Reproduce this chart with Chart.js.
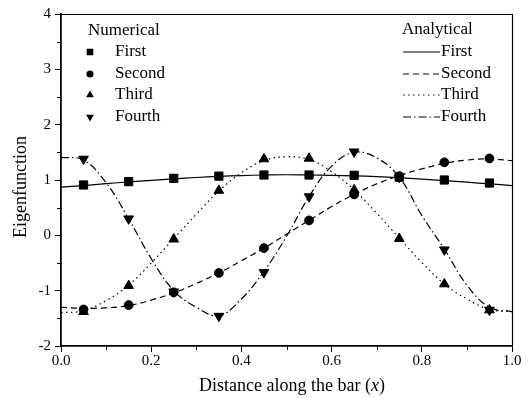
<!DOCTYPE html>
<html>
<head>
<meta charset="utf-8">
<script src="https://cdn.jsdelivr.net/npm/chart.js@4.4.1/dist/chart.umd.min.js"></script>
<style>
html,body{margin:0;padding:0;background:#fff;}
#wrap{width:530px;height:398px;}
</style>
</head>
<body>
<div id="wrap"><canvas id="c" width="530" height="398"></canvas></div>
<script>
// ---- data ----
const xNum = [0.05, 0.15, 0.25, 0.35, 0.45, 0.55, 0.65, 0.75, 0.85, 0.95];
const numFirst  = [0.91, 0.97, 1.03, 1.07, 1.09, 1.09, 1.085, 1.05, 1.00, 0.945];
const numSecond = [-1.34, -1.26, -1.03, -0.68, -0.23, 0.27, 0.74, 1.07, 1.32, 1.39];
const numThird  = [-1.38, -0.91, -0.07, 0.81, 1.38, 1.39, 0.82, -0.06, -0.88, -1.35];
const numFourth = [1.38, 0.30, -1.02, -1.46, -0.67, 0.70, 1.51, 1.05, -0.26, -1.35];

const xAna = [0, 0.05, 0.1, 0.15, 0.2, 0.25, 0.3, 0.35, 0.4, 0.45, 0.5, 0.55, 0.6, 0.65, 0.7, 0.75, 0.8, 0.85, 0.9, 0.95, 1.0];
const anaFirst  = [0.87, 0.90, 0.935, 0.965, 0.995, 1.02, 1.045, 1.065, 1.08, 1.09, 1.095, 1.09, 1.085, 1.075, 1.06, 1.04, 1.015, 0.99, 0.96, 0.93, 0.90];
const anaSecond = [-1.30, -1.32, -1.31, -1.27, -1.17, -1.04, -0.87, -0.68, -0.46, -0.23, 0.02, 0.27, 0.52, 0.74, 0.93, 1.08, 1.20, 1.30, 1.36, 1.38, 1.35];
const anaThird  = [-1.40, -1.36, -1.18, -0.90, -0.50, -0.06, 0.38, 0.80, 1.13, 1.35, 1.42, 1.37, 1.15, 0.82, 0.40, -0.05, -0.49, -0.88, -1.15, -1.34, -1.38];
const anaFourth = [1.41, 1.36, 0.95, 0.30, -0.42, -1.00, -1.30, -1.45, -1.15, -0.65, -0.02, 0.70, 1.25, 1.50, 1.40, 1.05, 0.36, -0.25, -0.90, -1.30, -1.38];

const xTicks = [0.0, 0.2, 0.4, 0.6, 0.8, 1.0];
const yTicks = [-2, -1, 0, 1, 2, 3, 4];
const seriesNames = ['First', 'Second', 'Third', 'Fourth'];
const numTitle = 'Numerical';
const anaTitle = 'Analytical';
const xTitleParts = ['Distance along the bar (', 'x', ')'];
const yTitle = 'Eigenfunction';

// ---- build ----
const pts = (xs, ys) => xs.map((x, i) => ({x: x, y: ys[i]}));
const SERIF = '"Liberation Serif", "DejaVu Serif", serif';
const dashes = [[], [6, 4], [1.5, 3.5], [8, 3, 1.5, 3]];
const styles = [
  {pointStyle: 'rect', radius: 5.8, rotation: 0},
  {pointStyle: 'circle', radius: 4.4, rotation: 0},
  {pointStyle: 'triangle', radius: 5.6, rotation: 0},
  {pointStyle: 'triangle', radius: 5.6, rotation: 180}
];
const anaData = [anaFirst, anaSecond, anaThird, anaFourth];
const numData = [numFirst, numSecond, numThird, numFourth];

const datasets = [];
anaData.forEach((d, i) => {
  datasets.push({
    label: 'Analytical ' + seriesNames[i],
    data: pts(xAna, d),
    borderColor: '#000', borderWidth: 1.2, borderDash: dashes[i],
    pointRadius: 0, showLine: true, fill: false, tension: 0.4
  });
});
numData.forEach((d, i) => {
  datasets.push({
    label: 'Numerical ' + seriesNames[i],
    data: pts(xNum, d),
    showLine: false,
    pointStyle: styles[i].pointStyle, pointRotation: styles[i].rotation,
    pointRadius: styles[i].radius, pointHoverRadius: styles[i].radius,
    backgroundColor: '#000', borderColor: '#000', borderWidth: 1
  });
});

function drawMarker(ctx, st, x, y) {
  ctx.beginPath();
  const r = st.radius;
  if (st.pointStyle === 'rect') {
    const s = r * Math.SQRT1_2;
    ctx.rect(x - s, y - s, 2 * s, 2 * s);
  } else if (st.pointStyle === 'circle') {
    ctx.arc(x, y, r, 0, Math.PI * 2);
  } else {
    const h = r * 1.5, w = r * Math.sqrt(3);
    const dir = st.rotation === 180 ? -1 : 1;
    ctx.moveTo(x, y - dir * h * 2 / 3);
    ctx.lineTo(x - w / 2, y + dir * h / 3);
    ctx.lineTo(x + w / 2, y + dir * h / 3);
    ctx.closePath();
  }
  ctx.fill();
}

const decor = {
  id: 'decor',
  afterDraw(chart) {
    const ctx = chart.ctx, a = chart.chartArea;
    const xs = chart.scales.x, ys = chart.scales.y;
    ctx.save();
    ctx.strokeStyle = '#000'; ctx.fillStyle = '#000';
    // frame top/right
    ctx.lineWidth = 1.2;
    ctx.beginPath();
    ctx.moveTo(a.left, a.top + 0.5); ctx.lineTo(a.right + 0.5, a.top + 0.5); ctx.lineTo(a.right + 0.5, a.bottom);
    ctx.stroke();
    // minor ticks
    ctx.lineWidth = 1;
    ctx.beginPath();
    for (let k = 1; k < 10; k += 2) {
      const px = Math.round(xs.getPixelForValue(k / 10)) + 0.5;
      ctx.moveTo(px, a.bottom); ctx.lineTo(px, a.bottom + 4);
    }
    for (let k = -2; k < 4; k++) {
      const py = Math.round(ys.getPixelForValue(k + 0.5)) + 0.5;
      ctx.moveTo(a.left, py); ctx.lineTo(a.left - 4, py);
    }
    ctx.stroke();
    // legends
    ctx.font = '17px ' + SERIF;
    ctx.textBaseline = 'middle';
    ctx.textAlign = 'left';
    ctx.fillText(numTitle, 88, 31);
    ctx.fillText(anaTitle, 402, 30);
    const rowY = [52, 74, 95, 117];
    seriesNames.forEach((n, i) => {
      drawMarker(ctx, {pointStyle: styles[i].pointStyle, radius: styles[i].radius * 0.8, rotation: styles[i].rotation}, 90, rowY[i]);
      ctx.fillText(n, 115, rowY[i]);
      ctx.save();
      ctx.lineWidth = 1.2;
      ctx.setLineDash(dashes[i]);
      ctx.beginPath();
      ctx.moveTo(403, rowY[i]); ctx.lineTo(440, rowY[i]);
      ctx.stroke();
      ctx.restore();
      ctx.fillText(n, 441, rowY[i]);
    });
    // x title
    ctx.textBaseline = 'alphabetic';
    const fN = '18px ' + SERIF, fI = 'italic 18px ' + SERIF;
    const w0 = (ctx.font = fN, ctx.measureText(xTitleParts[0]).width);
    const w1 = (ctx.font = fI, ctx.measureText(xTitleParts[1]).width);
    const w2 = (ctx.font = fN, ctx.measureText(xTitleParts[2]).width);
    let sx = 292 - (w0 + w1 + w2) / 2;
    ctx.font = fN; ctx.fillText(xTitleParts[0], sx, 391);
    ctx.font = fI; ctx.fillText(xTitleParts[1], sx + w0, 391);
    ctx.font = fN; ctx.fillText(xTitleParts[2], sx + w0 + w1, 391);
    // y title
    ctx.save();
    ctx.translate(21, 187);
    ctx.rotate(-Math.PI / 2);
    ctx.font = '18px ' + SERIF;
    ctx.textAlign = 'center';
    ctx.textBaseline = 'middle';
    ctx.fillText(yTitle, 0, 0);
    ctx.restore();
    ctx.restore();
  }
};

new Chart(document.getElementById('c'), {
  type: 'scatter',
  data: {datasets: datasets},
  options: {
    responsive: false,
    animation: false,
    events: [],
    layout: {padding: {left: 0, right: 18, top: 14, bottom: 0}},
    plugins: {legend: {display: false}, tooltip: {enabled: false}},
    scales: {
      x: {
        type: 'linear', min: 0, max: 1,
        afterFit: s => { s.height = 52; },
        afterBuildTicks: s => { s.ticks = xTicks.map(v => ({value: v})); },
        ticks: {color: '#000', font: {family: SERIF, size: 15}, padding: 0,
                callback: v => v.toFixed(1), maxRotation: 0, autoSkip: false},
        grid: {display: true, drawOnChartArea: false, tickLength: 6, color: '#000', tickWidth: 1},
        border: {display: true, color: '#000', width: 1.8}
      },
      y: {
        type: 'linear', min: -2, max: 4,
        afterFit: s => { s.width = 61; },
        afterBuildTicks: s => { s.ticks = yTicks.map(v => ({value: v})); },
        ticks: {color: '#000', font: {family: SERIF, size: 15}, padding: 4,
                callback: v => String(v), autoSkip: false},
        grid: {display: true, drawOnChartArea: false, tickLength: 6, color: '#000', tickWidth: 1},
        border: {display: true, color: '#000', width: 1.8}
      }
    }
  },
  plugins: [decor]
});
</script>
</body>
</html>
